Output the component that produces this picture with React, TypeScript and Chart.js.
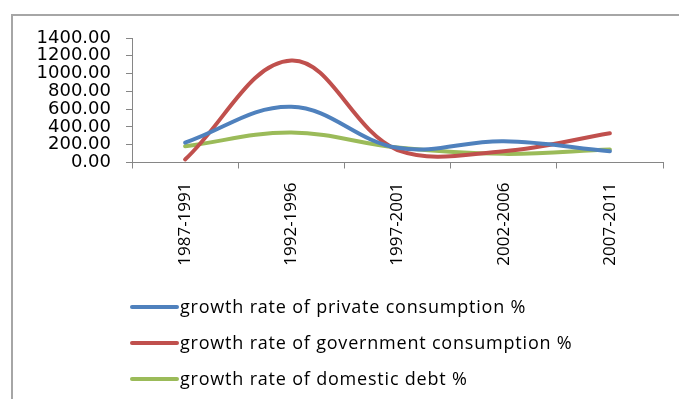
import React, { useEffect, useRef } from "react";
import { Chart, registerables } from "chart.js";

Chart.register(...registerables);

const categories = ["1987-1991", "1992-1996", "1997-2001", "2002-2006", "2007-2011"];
const privateConsumption = [224, 627, 165, 239, 127];
const governmentConsumption = [34, 1146, 140, 127, 328];
const domesticDebt = [182, 336, 168, 97, 146];
const seriesNames = [
  "growth rate of private consumption %",
  "growth rate of government consumption %",
  "growth rate of domestic debt %",
];
const seriesColors = ["#4F81BD", "#C0504D", "#9BBB59"];

const W = 679;
const H = 399;

const framePlugin = {
  id: "frame",
  beforeDraw(chart: any) {
    const ctx = chart.ctx;
    ctx.save();
    ctx.fillStyle = "#ffffff";
    ctx.fillRect(0, 0, W, H);
    ctx.strokeStyle = "#a6a6a6";
    ctx.lineWidth = 2;
    ctx.strokeRect(12, 15, 720, 420);
    ctx.restore();
  },
};

const legendPlugin = {
  id: "customLegend",
  afterDraw(chart: any) {
    const ctx = chart.ctx;
    ctx.save();
    const ys = [307, 343, 379];
    chart.data.datasets.forEach((ds: any, i: number) => {
      const y = ys[i];
      ctx.strokeStyle = ds.borderColor;
      ctx.lineWidth = 4;
      ctx.lineCap = "round";
      ctx.beginPath();
      ctx.moveTo(132, y);
      ctx.lineTo(177, y);
      ctx.stroke();
      ctx.fillStyle = "#000";
      ctx.font = "18px 'Open Sans'";
      (ctx as any).letterSpacing = "0.8px";
      ctx.textBaseline = "middle";
      ctx.textAlign = "left";
      ctx.fillText(ds.label, 180, y + 1);
    });
    ctx.restore();
  },
};

export default function App() {
  const ref = useRef<HTMLCanvasElement>(null);
  useEffect(() => {
    document.body.style.margin = "0";
    const canvas = ref.current!;
    const chart = new Chart(canvas, {
      type: "line",
      data: {
        labels: categories,
        datasets: [privateConsumption, governmentConsumption, domesticDebt].map((d, i) => ({
          label: seriesNames[i],
          data: d,
          borderColor: seriesColors[i],
          backgroundColor: seriesColors[i],
          borderWidth: 4,
          pointRadius: 0,
          tension: 0.38,
          fill: false,
          borderCapStyle: "round" as const,
        })),
      },
      options: {
        animation: false,
        responsive: false,
        devicePixelRatio: 1,
        layout: { padding: { top: 38, right: 16, left: 0, bottom: 0 } },
        plugins: {
          legend: { display: false },
          tooltip: { enabled: false },
          title: { display: false },
        },
        scales: {
          x: {
            type: "category",
            offset: true,
            grid: {
              offset: true,
              drawOnChartArea: false,
              drawTicks: true,
              tickLength: 6,
              color: "#868686",
            },
            border: { color: "#868686", width: 1 },
            ticks: {
              minRotation: 90,
              maxRotation: 90,
              padding: 14,
              color: "#000",
              font: { family: "'Open Sans'", size: 17 },
            },
            afterFit(scale: any) {
              scale.height = H - 162.5;
            },
          },
          y: {
            min: 0,
            max: 1400,
            grid: {
              drawOnChartArea: false,
              drawTicks: true,
              tickLength: 6,
              color: "#868686",
            },
            border: { color: "#868686", width: 1 },
            ticks: {
              stepSize: 200,
              autoSkip: false,
              padding: 15,
              color: "#000",
              font: { family: "'DejaVu Sans'", size: 18 },
              callback: (v: any) => Number(v).toFixed(2),
            },
            afterFit(scale: any) {
              scale.width = 132;
            },
          },
        },
      },
      plugins: [framePlugin, legendPlugin],
    });
    return () => chart.destroy();
  }, []);
  return <canvas ref={ref} width={W} height={H} style={{ display: "block", width: W, height: H }} />;
}
